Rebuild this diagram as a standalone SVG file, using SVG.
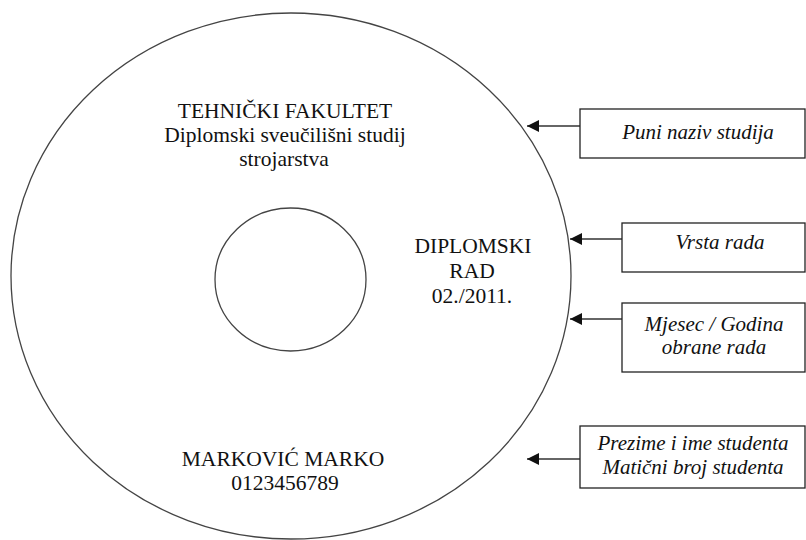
<svg xmlns="http://www.w3.org/2000/svg" width="806" height="540" viewBox="0 0 806 540">
<style>
.disc{fill:none;stroke:#444;stroke-width:1.3}
.box{fill:#fff;stroke:#222;stroke-width:1.3}
.t{font-family:"Liberation Serif","Times New Roman",serif;font-size:21.5px;fill:#111;text-anchor:middle}
.i{font-family:"Liberation Serif","Times New Roman",serif;font-style:italic;font-size:21px;fill:#111;text-anchor:middle}
.c{stroke:#333;stroke-width:1.3;fill:none;marker-end:url(#ah)}
</style>
<defs>
<marker id="ah" viewBox="0 0 10 10" refX="10" refY="5" markerWidth="12" markerHeight="12" markerUnits="userSpaceOnUse" orient="auto">
<path d="M0,0 L10,5 L0,10 Z" fill="#111"/>
</marker>
</defs>
<rect width="806" height="540" fill="#fff"/>
<g id="disc">
<ellipse class="disc" cx="291" cy="276" rx="280" ry="263"/>
<ellipse class="disc" cx="290.5" cy="279.5" rx="75.5" ry="71.5"/>
<text class="t" x="285" y="118">TEHNIČKI FAKULTET</text>
<text class="t" x="285" y="142">Diplomski sveučilišni studij</text>
<text class="t" x="284" y="166">strojarstva</text>
<text class="t" x="473" y="253">DIPLOMSKI</text>
<text class="t" x="472" y="278">RAD</text>
<text class="t" x="472" y="303">02./2011.</text>
<text class="t" x="283" y="466">MARKOVIĆ MARKO</text>
<text class="t" x="285" y="490">0123456789</text>
</g>
<g id="connectors">
<line class="c" x1="580" y1="126" x2="527" y2="126"/>
<line class="c" x1="622" y1="239" x2="570" y2="239"/>
<line class="c" x1="622" y1="319" x2="570" y2="319"/>
<line class="c" x1="580" y1="459" x2="527" y2="459"/>
</g>
<g id="box1">
<rect class="box" x="580" y="109" width="225" height="49"/>
<text class="i" x="698" y="139">Puni naziv studija</text>
</g>
<g id="box2">
<rect class="box" x="622" y="223" width="183" height="49"/>
<text class="i" x="720" y="249">Vrsta rada</text>
</g>
<g id="box3">
<rect class="box" x="622" y="303" width="183" height="69"/>
<text class="i" x="714" y="331">Mjesec / Godina</text>
<text class="i" x="714" y="354">obrane rada</text>
</g>
<g id="box4">
<rect class="box" x="580" y="426" width="225" height="62"/>
<text class="i" x="693" y="450">Prezime i ime studenta</text>
<text class="i" x="693" y="474">Matični broj studenta</text>
</g>
</svg>
